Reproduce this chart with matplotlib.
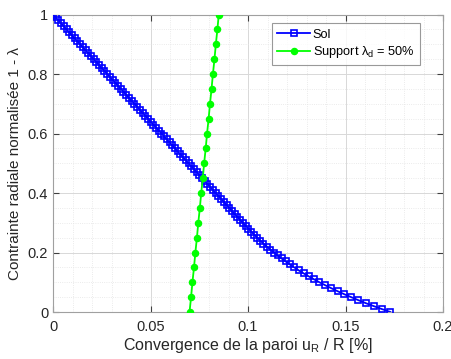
import numpy as np
import matplotlib
matplotlib.use("Agg")
import matplotlib.pyplot as plt
from matplotlib.ticker import MultipleLocator, FuncFormatter

plt.rcParams['font.family'] = ['Liberation Sans', 'DejaVu Sans']
plt.rcParams['mathtext.fontset'] = 'custom'
plt.rcParams['mathtext.rm'] = 'Liberation Sans'

### Data

# Sol (ground reaction curve), normalised radial stress 1 - lambda from 1 down to 0
sol_y = [1.00, 0.99, 0.98, 0.97, 0.96, 0.95, 0.94, 0.93, 0.92, 0.91,
         0.90, 0.89, 0.88, 0.87, 0.86, 0.85, 0.84, 0.83, 0.82, 0.81,
         0.80, 0.79, 0.78, 0.77, 0.76, 0.75, 0.74, 0.73, 0.72, 0.71,
         0.70, 0.69, 0.68, 0.67, 0.66, 0.65, 0.64, 0.63, 0.62, 0.61,
         0.60, 0.59, 0.58, 0.57, 0.56, 0.55, 0.54, 0.53, 0.52, 0.51,
         0.50, 0.49, 0.48, 0.47, 0.46, 0.45, 0.44, 0.43, 0.42, 0.41,
         0.40, 0.39, 0.38, 0.37, 0.36, 0.35, 0.34, 0.33, 0.32, 0.31,
         0.30, 0.29, 0.28, 0.27, 0.26, 0.25, 0.24, 0.23, 0.22, 0.21,
         0.20, 0.19, 0.18, 0.17, 0.16, 0.15, 0.14, 0.13, 0.12, 0.11,
         0.10, 0.09, 0.08, 0.07, 0.06, 0.05, 0.04, 0.03, 0.02, 0.01,
         0.00]
sol_x = [0.0000, 0.0014, 0.0028, 0.0042, 0.0056, 0.0070, 0.0083, 0.0097, 0.0111, 0.0125,
         0.0139, 0.0153, 0.0167, 0.0181, 0.0195, 0.0209, 0.0222, 0.0236, 0.0250, 0.0264,
         0.0278, 0.0292, 0.0306, 0.0320, 0.0334, 0.0348, 0.0361, 0.0375, 0.0389, 0.0403,
         0.0417, 0.0431, 0.0445, 0.0459, 0.0473, 0.0487, 0.0500, 0.0514, 0.0528, 0.0542,
         0.0556, 0.0570, 0.0584, 0.0598, 0.0612, 0.0626, 0.0639, 0.0653, 0.0667, 0.0681,
         0.0695, 0.0709, 0.0723, 0.0737, 0.0751, 0.0765, 0.0778, 0.0792, 0.0806, 0.0820,
         0.0834, 0.0848, 0.0862, 0.0876, 0.0890, 0.0904, 0.0917, 0.0931, 0.0945, 0.0959,
         0.0973, 0.0988, 0.1002, 0.1017, 0.1032, 0.1047, 0.1063, 0.1079, 0.1097, 0.1114,
         0.1133, 0.1152, 0.1172, 0.1193, 0.1214, 0.1237, 0.1260, 0.1285, 0.1311, 0.1338,
         0.1366, 0.1396, 0.1427, 0.1459, 0.1493, 0.1529, 0.1565, 0.1603, 0.1644, 0.1686,
         0.1730]

# Support (confinement curve), lambda_d = 50%
sup_y = [0.00, 0.05, 0.10, 0.15, 0.20, 0.25, 0.30, 0.35, 0.40, 0.45,
         0.50, 0.55, 0.60, 0.65, 0.70, 0.75, 0.80, 0.85, 0.90, 0.95, 1.00]
sup_x = [0.0700, 0.0708, 0.0715, 0.0723, 0.0730, 0.0738, 0.0745, 0.0753, 0.0760, 0.0768,
         0.0775, 0.0783, 0.0790, 0.0798, 0.0805, 0.0813, 0.0820, 0.0828, 0.0835, 0.0843,
         0.0850]

labels = ['Sol', r'Support λ$_{\rm d}$ = 50%']
xlabel = r'Convergence de la paroi u$_{\rm R}$ / R [%]'
ylabel = 'Contrainte radiale normalisée 1 - λ'

### Plot

fig = plt.figure(figsize=(4.52, 3.59), dpi=100)
ax = fig.add_axes([0.1173, 0.1309, 0.8628, 0.8287])

ax.plot(sol_x, sol_y, color=(0, 0, 1), lw=1.3, marker='s', ms=4.6,
        mfc='none', mec=(0, 0, 1), mew=1.2, label=labels[0], zorder=3)
ax.plot(sup_x, sup_y, color=(0, 1, 0), lw=1.3, marker='o', ms=4.4,
        mfc=(0, 1, 0), mec=(0, 1, 0), label=labels[1], zorder=3)

ax.set_xlim(0, 0.2)
ax.set_ylim(0, 1)
ax.xaxis.set_major_locator(MultipleLocator(0.05))
ax.xaxis.set_minor_locator(MultipleLocator(0.01))
ax.yaxis.set_major_locator(MultipleLocator(0.2))
ax.yaxis.set_minor_locator(MultipleLocator(0.05))
fmt = FuncFormatter(lambda v, p: '%g' % round(v, 4))
ax.xaxis.set_major_formatter(fmt)
ax.yaxis.set_major_formatter(fmt)

ax.grid(True, which='major', color='#d8d8d8', lw=0.7)
ax.grid(True, which='minor', color='#e4e4e4', lw=0.6, ls=':')
ax.set_axisbelow(True)

for s in ax.spines.values():
    s.set_color('#a0a0a0')
    s.set_linewidth(0.8)
ax.tick_params(which='both', direction='in', top=True, right=True,
               colors='#404040', labelcolor='#262626', labelsize=10.5)
ax.tick_params(which='major', length=4)
ax.tick_params(which='minor', length=0)
ax.tick_params(axis='x', pad=6)

ax.set_xlabel(xlabel, fontsize=11.5, color='#262626', labelpad=1)
ax.set_ylabel(ylabel, fontsize=11, color='#262626', labelpad=4)

leg = ax.legend(loc='upper right', bbox_to_anchor=(0.94, 0.97), fontsize=9.2,
                frameon=True, fancybox=False, handlelength=2.6, borderpad=0.4,
                labelspacing=0.3, handletextpad=0.2, borderaxespad=0)
leg.get_frame().set_edgecolor('#808080')
leg.get_frame().set_linewidth(0.8)

fig.savefig('out.png', dpi=100)
